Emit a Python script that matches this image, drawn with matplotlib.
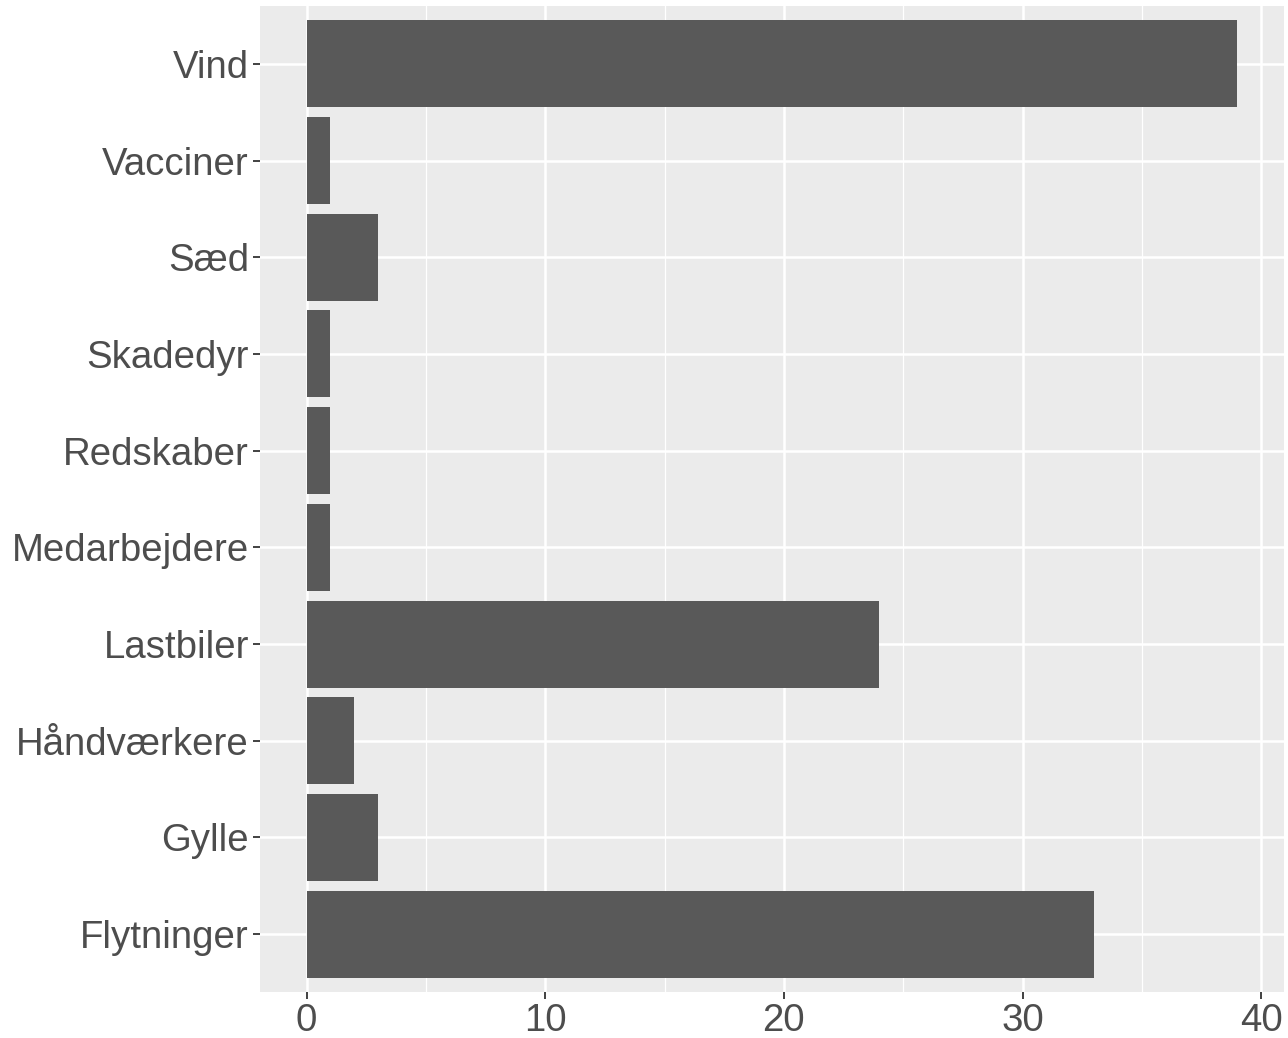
'''Horizontal bar chart in ggplot2 style.'''

import matplotlib
matplotlib.use('Agg')
import matplotlib.pyplot as plt
from matplotlib.ticker import MultipleLocator

# Data
categories=['Flytninger', 'Gylle', 'Håndværkere', 'Lastbiler', 'Medarbejdere',
            'Redskaber', 'Skadedyr', 'Sæd', 'Vacciner', 'Vind']
counts=[33, 3, 2, 24, 1, 1, 1, 3, 1, 39]
x_ticks=[0, 10, 20, 30, 40]

plt.rcParams['font.family']=['Liberation Sans', 'DejaVu Sans']

fig=plt.figure(figsize=(12.88, 10.38), dpi=100)
ax=fig.add_axes([260/1288, 1-992/1038, 1024/1288, (992-6)/1038])

# Background and grid
ax.set_facecolor('#EBEBEB')
ax.set_axisbelow(True)
ax.xaxis.set_minor_locator(MultipleLocator(5))
ax.grid(True, which='major', color='white', linewidth=1.8)
ax.grid(True, which='minor', axis='x', color='white', linewidth=0.9)

# Bars
ypos=list(range(len(categories)))
ax.barh(ypos, counts, height=0.9, color='#595959')

ax.set_yticks(ypos)
ax.set_yticklabels(categories)
ax.set_xticks(x_ticks)
ax.set_xlim(-1.95, 40.95)
ax.set_ylim(-0.6, len(categories)-1+0.6)

for spine in ax.spines.values():
    spine.set_visible(False)

ax.tick_params(axis='both', which='major', length=5, width=1.3, color='#333333',
               labelsize=27.6, labelcolor='#4D4D4D', pad=3)
ax.tick_params(axis='x', which='minor', length=0)

fig.savefig('out.png', dpi=100)
